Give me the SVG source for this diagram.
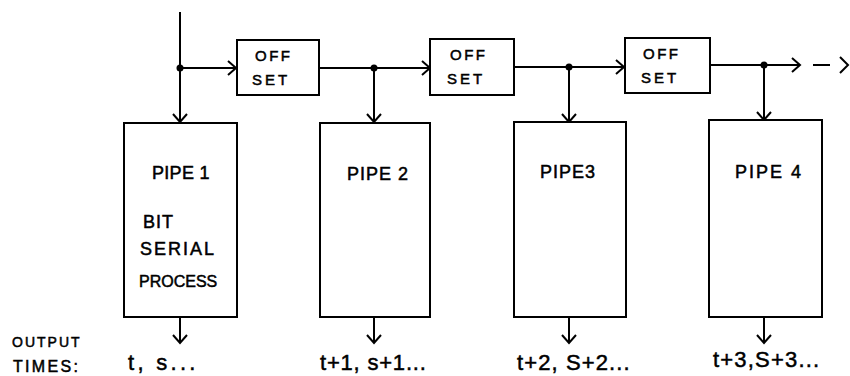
<svg xmlns="http://www.w3.org/2000/svg" width="850" height="376" viewBox="0 0 850 376">
<style>
.box{fill:#fff;stroke:#000;stroke-width:2}
.ln{fill:none;stroke:#000;stroke-width:2}
.t{font-family:"Liberation Sans",Arial,sans-serif;fill:#000;stroke:#000;stroke-width:0.5}
.s{font-size:15px}
.p{font-size:18px}
.o{font-size:22px}
</style>
<defs>
<marker id="ah" markerUnits="userSpaceOnUse" markerWidth="14" markerHeight="20" refX="10" refY="8" orient="auto" viewBox="0 0 14 20">
<path d="M2,1 L10,8 L2,15" fill="none" stroke="#000" stroke-width="2"/>
</marker>
</defs>
<g id="connectors">
<line class="ln" x1="180" y1="12" x2="180" y2="122" marker-end="url(#ah)"/>
<line class="ln" x1="180" y1="68" x2="236" y2="68" marker-end="url(#ah)"/>
<line class="ln" x1="320" y1="68" x2="430" y2="68" marker-end="url(#ah)"/>
<line class="ln" x1="374" y1="68" x2="374" y2="122" marker-end="url(#ah)"/>
<line class="ln" x1="514" y1="67" x2="624" y2="67" marker-end="url(#ah)"/>
<line class="ln" x1="569" y1="67" x2="569" y2="122" marker-end="url(#ah)"/>
<line class="ln" x1="710" y1="65" x2="800" y2="65" marker-end="url(#ah)"/>
<line class="ln" x1="764" y1="65" x2="764" y2="120" marker-end="url(#ah)"/>
<line class="ln" x1="813" y1="65" x2="830" y2="65"/>
<path class="ln" d="M840,57 L848,65 L840,73"/>
<circle cx="180" cy="68" r="3.5"/>
<circle cx="374" cy="68" r="3.5"/>
<circle cx="569" cy="67" r="3.5"/>
<circle cx="764" cy="65" r="3.5"/>
<line class="ln" x1="180" y1="317" x2="180" y2="343" marker-end="url(#ah)"/>
<line class="ln" x1="374" y1="317" x2="374" y2="343" marker-end="url(#ah)"/>
<line class="ln" x1="569" y1="317" x2="569" y2="343" marker-end="url(#ah)"/>
<line class="ln" x1="764" y1="317" x2="764" y2="343" marker-end="url(#ah)"/>
</g>
<g id="offset1">
<rect class="box" x="237" y="40" width="82" height="55"/>
<text class="t s" x="255" y="61" letter-spacing="2.5">OFF</text>
<text class="t s" x="252" y="85" letter-spacing="3">SET</text>
</g>
<g id="offset2">
<rect class="box" x="430" y="39" width="84" height="56"/>
<text class="t s" x="450" y="60" letter-spacing="2.5">OFF</text>
<text class="t s" x="447" y="84" letter-spacing="3">SET</text>
</g>
<g id="offset3">
<rect class="box" x="625" y="38" width="85" height="55"/>
<text class="t s" x="643" y="59" letter-spacing="2.5">OFF</text>
<text class="t s" x="641" y="83" letter-spacing="3">SET</text>
</g>
<g id="pipe1">
<rect class="box" x="124" y="123" width="113" height="194"/>
<text class="t p" x="152" y="179" letter-spacing="0.3">PIPE 1</text>
<text class="t p" x="143" y="228" letter-spacing="1">BIT</text>
<text class="t p" x="140" y="255" letter-spacing="2">SERIAL</text>
<text class="t" font-size="16" x="139" y="287">PROCESS</text>
</g>
<g id="pipe2">
<rect class="box" x="320" y="123" width="110" height="194"/>
<text class="t p" x="347" y="180" letter-spacing="1">PIPE 2</text>
</g>
<g id="pipe3">
<rect class="box" x="514" y="122" width="112" height="195"/>
<text class="t p" x="540" y="178" letter-spacing="1">PIPE3</text>
</g>
<g id="pipe4">
<rect class="box" x="709" y="120" width="113" height="197"/>
<text class="t p" x="735" y="178" letter-spacing="2">PIPE 4</text>
</g>
<g id="labels">
<text class="t" font-size="14" x="12" y="347" letter-spacing="2">OUTPUT</text>
<text class="t" font-size="16" x="13" y="372" letter-spacing="2.3">TIMES:</text>
<text class="t" font-size="22" x="128" y="370" letter-spacing="3.3">t, s...</text>
<text class="t o" x="320" y="370" letter-spacing="0.8">t+1, s+1...</text>
<text class="t o" x="517" y="370" letter-spacing="1.1">t+2, S+2...</text>
<text class="t o" x="713" y="367" letter-spacing="1.2">t+3,S+3...</text>
</g>
</svg>
